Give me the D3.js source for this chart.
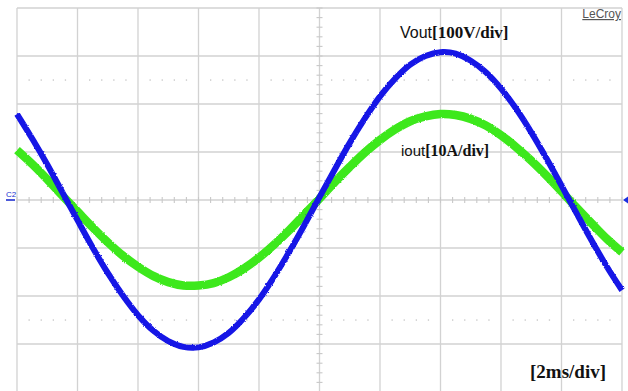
<!DOCTYPE html>
<html>
<head>
<meta charset="utf-8">
<script src="https://cdn.jsdelivr.net/npm/d3@7"></script>
<style>
  html, body { margin: 0; padding: 0; background: #fff; }
  svg { display: block; }
</style>
</head>
<body>
<svg id="scope" width="628" height="391"></svg>
<script>
// Time base (ms) for the captured samples, 0.5 ms apart across the 20 ms screen
const timeMs = [-10, -9.5, -9, -8.5, -8, -7.5, -7, -6.5, -6, -5.5, -5, -4.5, -4, -3.5, -3, -2.5, -2, -1.5, -1, -0.5,
  0, 0.5, 1, 1.5, 2, 2.5, 3, 3.5, 4, 4.5, 5, 5.5, 6, 6.5, 7, 7.5, 8, 8.5, 9, 9.5, 10];

// Output voltage samples (V)
const vout = [179, 128, 74, 16, -42, -99, -152, -199, -240, -272, -294, -306, -307, -297, -277, -246, -207, -160, -108, -52,
  6, 63, 119, 170, 216, 253, 282, 300, 308, 305, 290, 266, 232, 190, 141, 87, 30, -28, -85, -139, -188];

// Output current samples (A)
const iout = [10.4, 7.5, 4.3, 0.9, -2.4, -5.7, -8.8, -11.6, -13.9, -15.8, -17.1, -17.8, -17.8, -17.3, -16.1, -14.3, -12.0, -9.3, -6.3, -3.0,
  0.3, 3.7, 6.9, 9.9, 12.5, 14.7, 16.4, 17.4, 17.9, 17.7, 16.9, 15.5, 13.5, 11.0, 8.2, 5.1, 1.8, -1.6, -4.9, -8.1, -10.9];

// Screen divisions: 10 horizontal at 2 ms/div, 8 vertical
const timeDivs = [-10, -8, -6, -4, -2, 0, 2, 4, 6, 8, 10];
const voltDivs = [-400, -300, -200, -100, 0, 100, 200, 300, 400];
const voltDotted = [-250, 250];

const labels = {
  vout: ["Vout", "[100V/div]"],
  iout: ["iout", "[10A/div]"],
  timebase: "[2ms/div]",
  brand: "LeCroy",
  channel: "C2"
};

const svg = d3.select("#scope");

const x = d3.scaleLinear().domain([-10, 10]).range([17, 622]);
const yV = d3.scaleLinear().domain([-400, 400]).range([392, 8]);
const yI = d3.scaleLinear().domain([-40, 40]).range([392, 8]);

const gridColor = "#d2d2d2";

// Fuzzy edge for the noisy traces
const defs = svg.append("defs");
const f = defs.append("filter").attr("id", "fuzz")
  .attr("x", "-5%").attr("y", "-5%").attr("width", "110%").attr("height", "110%");
f.append("feTurbulence").attr("type", "fractalNoise").attr("baseFrequency", 0.9)
  .attr("numOctaves", 2).attr("seed", 3).attr("result", "n");
f.append("feDisplacementMap").attr("in", "SourceGraphic").attr("in2", "n")
  .attr("scale", 2.2).attr("xChannelSelector", "R").attr("yChannelSelector", "G");

const grid = svg.append("g");

// Major graticule
grid.selectAll("line.v").data(timeDivs).join("line")
  .attr("x1", d => x(d)).attr("x2", d => x(d))
  .attr("y1", yV(400)).attr("y2", yV(-400))
  .attr("stroke", gridColor).attr("stroke-width", 1.3);

grid.selectAll("line.h").data(voltDivs).join("line")
  .attr("y1", d => yV(d)).attr("y2", d => yV(d))
  .attr("x1", x(-10)).attr("x2", x(10))
  .attr("stroke", gridColor).attr("stroke-width", 1.3);

// Dotted reference rows
const dotTimes = d3.range(-10, 10.001, 0.4).filter(t => Math.abs(Math.round(t * 10) % 20) !== 0);
voltDotted.forEach(v => {
  grid.selectAll(null).data(dotTimes).join("rect")
    .attr("x", d => x(d) - 0.6).attr("y", yV(v) - 0.6)
    .attr("width", 1.3).attr("height", 1.3)
    .attr("fill", "#c4c4c4");
});

// Minor ticks along the centre axes
const minorT = d3.range(-10, 10.001, 0.4);
grid.selectAll(null).data(minorT).join("line")
  .attr("x1", d => x(d)).attr("x2", d => x(d))
  .attr("y1", yV(0) - 3).attr("y2", yV(0) + 3)
  .attr("stroke", "#c8c8c8").attr("stroke-width", 1.1);

const minorV = d3.range(-400, 400.001, 20);
grid.selectAll(null).data(minorV).join("line")
  .attr("y1", d => yV(d)).attr("y2", d => yV(d))
  .attr("x1", x(0) - 3).attr("x2", x(0) + 3)
  .attr("stroke", "#c8c8c8").attr("stroke-width", 1.1);

// Traces
const iPath = d3.line()
  .x((d, i) => x(timeMs[i])).y(d => yI(d))
  .curve(d3.curveCatmullRom.alpha(0.5));
const vPath = d3.line()
  .x((d, i) => x(timeMs[i])).y(d => yV(d))
  .curve(d3.curveCatmullRom.alpha(0.5));

const traces = svg.append("g").attr("filter", "url(#fuzz)");
traces.append("path").datum(iout)
  .attr("d", iPath).attr("fill", "none")
  .attr("stroke", "#3de81c").attr("stroke-width", 8.5)
  .attr("stroke-linejoin", "round");
traces.append("path").datum(vout)
  .attr("d", vPath).attr("fill", "none")
  .attr("stroke", "#1414e6").attr("stroke-width", 6)
  .attr("stroke-linejoin", "round");

// Channel ground marker (left) and trigger level arrow (right)
svg.append("text").attr("x", 6).attr("y", 197)
  .attr("font-family", "Liberation Sans, Arial, sans-serif")
  .attr("font-size", 8).attr("fill", "#2030d0").text(labels.channel);
svg.append("line").attr("x1", 6).attr("x2", 15).attr("y1", yV(0)).attr("y2", yV(0))
  .attr("stroke", "#2030d0").attr("stroke-width", 1.6);
svg.append("path")
  .attr("d", d3.line()([[623, yV(0)], [628, yV(0) - 3.5], [628, yV(0) + 3.5]]) + "Z")
  .attr("fill", "#1a2ee0");

// Annotations
function mixedLabel(px, py, parts, size) {
  const t = svg.append("text").attr("x", px).attr("y", py).attr("fill", "#111");
  t.append("tspan").attr("font-family", "Liberation Sans, Arial, sans-serif")
    .attr("font-size", size).text(parts[0]);
  t.append("tspan").attr("font-family", "Liberation Serif, Times New Roman, serif")
    .attr("font-weight", "bold").attr("font-size", size + 1).text(parts[1]);
}
mixedLabel(400, 38, labels.vout, 16);
mixedLabel(401, 156, labels.iout, 15);

svg.append("text").attr("x", 606).attr("y", 378).attr("text-anchor", "end")
  .attr("font-family", "Liberation Serif, Times New Roman, serif")
  .attr("font-weight", "bold").attr("font-size", 19).attr("fill", "#111")
  .text(labels.timebase);

svg.append("text").attr("x", 621).attr("y", 18).attr("text-anchor", "end")
  .attr("font-family", "Liberation Sans, Arial, sans-serif")
  .attr("font-size", 12).attr("fill", "#555")
  .attr("text-decoration", "underline")
  .text(labels.brand);
</script>
</body>
</html>
